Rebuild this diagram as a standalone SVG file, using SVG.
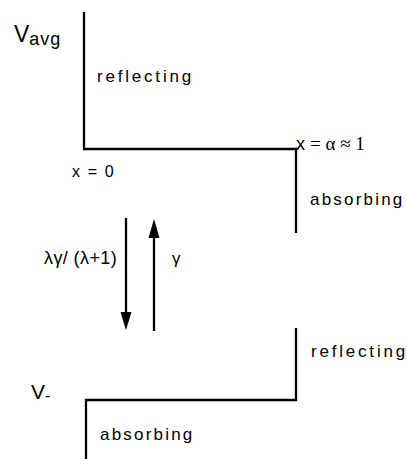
<svg xmlns="http://www.w3.org/2000/svg" width="407" height="459" viewBox="0 0 407 459">
<defs>
<style>
.ln{fill:none;stroke:#000;stroke-width:2.3}
.t{font-family:"Liberation Sans",Arial,sans-serif;fill:#000}
.rf{font-size:17px;letter-spacing:2.8px}
.ab{font-size:17px;letter-spacing:2.2px}
.s{font-family:"Liberation Serif","Times New Roman",serif}
</style>
</defs>
<rect width="407" height="459" fill="#fff"/>
<g id="upper-potential">
<path class="ln" d="M84,12 V149 H296 V233"/>
<text class="t" x="14" y="42" font-size="23">V<tspan font-size="18" dy="3" letter-spacing="1">avg</tspan></text>
<text class="t rf" x="97" y="82">reflecting</text>
<text class="t" x="72" y="177" font-size="16" letter-spacing="1.6">x = 0</text>
<text class="t" x="296" y="150" font-size="18">x <tspan class="s" font-size="19">= α ≈ 1</tspan></text>
<text class="t ab" x="310" y="205">absorbing</text>
</g>
<g id="lower-potential">
<path class="ln" d="M296,328 V400 H86 V459"/>
<text class="t rf" x="311" y="357">reflecting</text>
<text class="t" x="31" y="399" font-size="21">V<tspan font-size="16" dy="2">-</tspan></text>
<text class="t ab" x="100" y="440">absorbing</text>
</g>
<g id="connectors">
<line class="ln" x1="126" y1="218" x2="126" y2="312"/>
<path d="M120.5,312 L131.5,312 L126,330 Z" fill="#000"/>
<line class="ln" x1="154" y1="237" x2="154" y2="331"/>
<path d="M148.5,238 L159.5,238 L154,219 Z" fill="#000"/>
<text class="t" x="44" y="264" font-size="18" letter-spacing="0.4">λγ/ (λ+1)</text>
<text class="t" x="172" y="264" font-size="17">γ</text>
</g>
</svg>
